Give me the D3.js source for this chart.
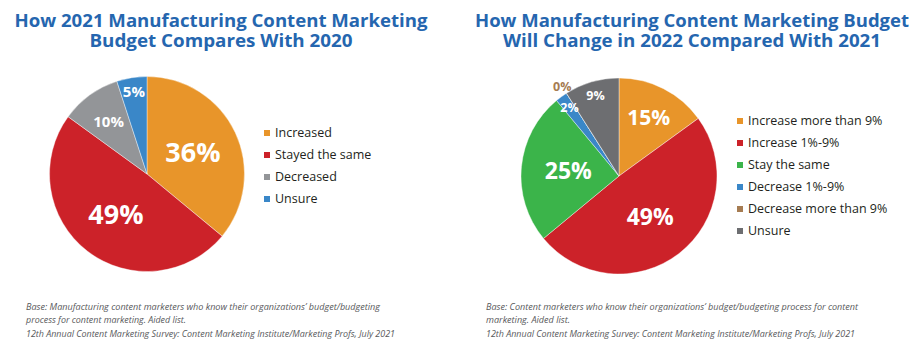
<!DOCTYPE html>
<html><head><meta charset="utf-8">
<script src="https://cdn.jsdelivr.net/npm/d3@7"></script>
<style>body{margin:0;background:#fff}svg{display:block}</style>
</head><body>
<svg id="c" width="921" height="361"></svg>
<script>
// ---- data ----
const leftTitle = ["How 2021 Manufacturing Content Marketing", "Budget Compares With 2020"];
const leftCategories = ["Increased", "Stayed the same", "Decreased", "Unsure"];
const leftValues = [36, 49, 10, 5];
const leftNotes = ["Base: Manufacturing content marketers who know their organizations’ budget/budgeting",
  "process for content marketing. Aided list.",
  "12th Annual Content Marketing Survey: Content Marketing Institute/Marketing Profs, July 2021"];

const rightTitle = ["How Manufacturing Content Marketing Budget", "Will Change in 2022 Compared With 2021"];
const rightCategories = ["Increase more than 9%", "Increase 1%-9%", "Stay the same", "Decrease 1%-9%", "Decrease more than 9%", "Unsure"];
const rightValues = [15, 49, 25, 2, 0, 9];
const rightNotes = ["Base: Content marketers who know their organizations’ budget/budgeting process for content",
  "marketing. Aided list.",
  "12th Annual Content Marketing Survey: Content Marketing Institute/Marketing Profs, July 2021"];

const leftColors = ["#E8952A", "#CC2229", "#939598", "#3A87C8"];
const rightColors = ["#E8952A", "#CC2229", "#3BB44A", "#3A87C8", "#A67C52", "#6D6E71"];

const svg = d3.select("#c");
const titleFont = "'Open Sans', 'Noto Sans', sans-serif";

function panel(cfg) {
  const g = svg.append("g");
  cfg.title.forEach((t, i) => {
    g.append("text").attr("x", cfg.titleX).attr("y", 27 + i * 20)
      .attr("text-anchor", "middle").attr("font-family", titleFont)
      .attr("font-weight", 700).attr("font-size", 18).attr("fill", "#2566AF")
      .attr("textLength", cfg.titleW[i]).attr("lengthAdjust", "spacingAndGlyphs")
      .text(t);
  });
  const pie = d3.pie().sort(null).value(d => d)(cfg.values);
  const arc = d3.arc().innerRadius(0).outerRadius(cfg.r);
  const pg = g.append("g").attr("transform", `translate(${cfg.cx},${cfg.cy})`);
  pg.selectAll("path").data(pie).join("path")
    .attr("d", arc).attr("fill", (d, i) => cfg.colors[i])
    .attr("stroke", "#fff").attr("stroke-width", 0.4);
  pie.forEach((d, i) => {
    const v = d.data;
    let k, fs;
    if (v >= 20) { k = 0.52; fs = cfg.bigFs; }
    else if (v >= 10) { k = 0.67; fs = cfg.midFs; }
    else if (v > 0) { k = 0.86; fs = cfg.smallFs; }
    else { k = 1.08; fs = cfg.smallFs; }
    const a = (d.startAngle + d.endAngle) / 2;
    const x = Math.sin(a) * cfg.r * k, y = -Math.cos(a) * cfg.r * k;
    pg.append("text").attr("x", x).attr("y", y).attr("dy", "0.36em")
      .attr("text-anchor", "middle").attr("font-family", titleFont)
      .attr("font-weight", 700).attr("font-size", fs)
      .attr("fill", v > 0 ? "#fff" : cfg.colors[i])
      .text(v + "%");
  });
  const lg = g.append("g");
  cfg.cats.forEach((c, i) => {
    const y = cfg.legY + i * cfg.legStep;
    lg.append("rect").attr("x", cfg.legX).attr("y", y - 3).attr("width", 6).attr("height", 6)
      .attr("fill", cfg.colors[i]);
    lg.append("text").attr("x", cfg.legX + 11).attr("y", y).attr("dy", "0.35em")
      .attr("font-family", "'Open Sans', sans-serif").attr("font-size", 12.5)
      .attr("fill", "#231F20").text(c);
  });
  cfg.notes.forEach((t, i) => {
    g.append("text").attr("x", cfg.noteX).attr("y", 310 + i * 13.3)
      .attr("font-family", "'Open Sans', sans-serif").attr("font-style", "italic")
      .attr("font-size", 8.6).attr("fill", "#58595B")
      .attr("textLength", cfg.noteW[i]).attr("lengthAdjust", "spacingAndGlyphs")
      .text(t);
  });
}

panel({
  title: leftTitle, titleX: 221, titleW: [413, 263],
  values: leftValues, colors: leftColors, cats: leftCategories, notes: leftNotes,
  cx: 147, cy: 174, r: 97.5, bigFs: 27, midFs: 15, smallFs: 15,
  legX: 264, legY: 133, legStep: 22,
  noteX: 26, noteW: [354, 160, 369]
});
panel({
  title: rightTitle, titleX: 692, titleW: [434, 378],
  values: rightValues, colors: rightColors, cats: rightCategories, notes: rightNotes,
  cx: 619, cy: 176, r: 98, bigFs: 23, midFs: 21, smallFs: 12.5,
  legX: 737, legY: 121, legStep: 22,
  noteX: 486, noteW: [372, 84, 369]
});
</script>
</body></html>
